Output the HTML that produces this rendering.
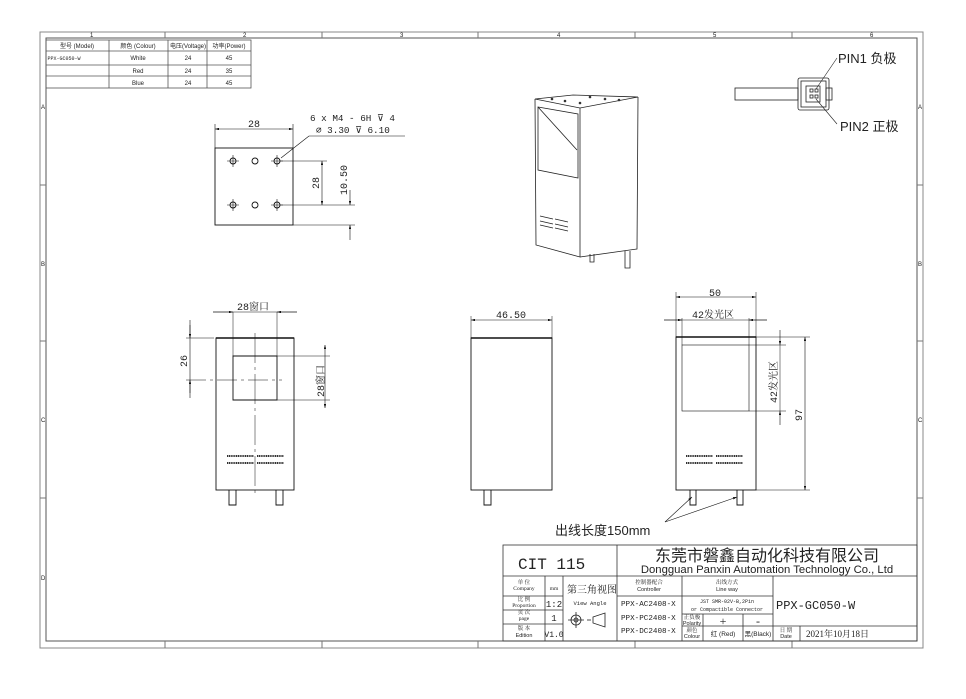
<!DOCTYPE html>
<html><head><meta charset="utf-8"><style>
html,body{margin:0;padding:0;background:#fff;}
svg{display:block;}
text{font-family:"Liberation Serif","Noto Serif CJK SC",serif;fill:#222;}
.s{font-family:"Liberation Sans","Noto Sans CJK SC",sans-serif;}
.m{font-family:"Liberation Mono","Noto Serif CJK SC",monospace;}
</style></head><body>
<svg width="966" height="699" viewBox="0 0 966 699" xmlns="http://www.w3.org/2000/svg">
<defs>
<marker id="a" viewBox="0 0 10 6" refX="10" refY="3" markerWidth="8" markerHeight="4" orient="auto-start-reverse"><path d="M0,0L10,3L0,6z" fill="#111"/></marker>
</defs>
<rect width="966" height="699" fill="#fff"/>
<g fill="none" stroke="#888" stroke-width="1">
<rect x="40" y="32" width="883" height="616"/>
<rect x="46" y="38" width="871" height="603" stroke="#555"/>
</g>
<g stroke="#777" stroke-width="1">
<line x1="165" y1="32" x2="165" y2="38"/><line x1="322" y1="32" x2="322" y2="38"/><line x1="478" y1="32" x2="478" y2="38"/><line x1="635" y1="32" x2="635" y2="38"/><line x1="792" y1="32" x2="792" y2="38"/>
<line x1="165" y1="641" x2="165" y2="648"/><line x1="322" y1="641" x2="322" y2="648"/><line x1="478" y1="641" x2="478" y2="648"/><line x1="635" y1="641" x2="635" y2="648"/><line x1="792" y1="641" x2="792" y2="648"/>
<line x1="40" y1="185" x2="46" y2="185"/><line x1="40" y1="341" x2="46" y2="341"/><line x1="40" y1="498" x2="46" y2="498"/>
<line x1="917" y1="185" x2="923" y2="185"/><line x1="917" y1="341" x2="923" y2="341"/><line x1="917" y1="498" x2="923" y2="498"/>
</g>
<g class="s" font-size="6" fill="#555">
<text x="90" y="37" class="s">1</text><text x="243" y="37" class="s">2</text><text x="400" y="37" class="s">3</text><text x="557" y="37" class="s">4</text><text x="713" y="37" class="s">5</text><text x="870" y="37" class="s">6</text>
<text x="41" y="109" class="s">A</text><text x="41" y="266" class="s">B</text><text x="41" y="422" class="s">C</text><text x="41" y="580" class="s">D</text>
<text x="918" y="109" class="s">A</text><text x="918" y="266" class="s">B</text><text x="918" y="422" class="s">C</text>
</g>
<!-- table -->
<g stroke="#555" stroke-width="0.8" fill="none">
<rect x="46" y="40" width="205" height="48"/>
<line x1="46" y1="51" x2="251" y2="51"/><line x1="46" y1="65" x2="251" y2="65"/><line x1="46" y1="76" x2="251" y2="76"/>
<line x1="109" y1="40" x2="109" y2="88"/><line x1="168" y1="40" x2="168" y2="88"/><line x1="207" y1="40" x2="207" y2="88"/>
</g>
<g font-size="6" class="s" text-anchor="middle">
<text x="77" y="48" class="s">型号 (Model)</text><text x="138" y="48" class="s">颜色 (Colour)</text><text x="188" y="48" class="s">电压(Voltage)</text><text x="229" y="48" class="s">功率(Power)</text>
<text x="64" y="60" class="m" font-size="5">PPX-GC050-W</text><text x="138" y="60" class="s">White</text><text x="188" y="60" class="s">24</text><text x="229" y="60" class="s">45</text>
<text x="138" y="73" class="s">Red</text><text x="188" y="73" class="s">24</text><text x="229" y="73" class="s">35</text>
<text x="138" y="85" class="s">Blue</text><text x="188" y="85" class="s">24</text><text x="229" y="85" class="s">45</text>
</g>
<!-- hole view -->
<g stroke="#111" stroke-width="0.9" fill="none">
<rect x="215" y="148" width="78" height="77"/>
<circle cx="233" cy="161" r="3"/><circle cx="255" cy="161" r="3"/><circle cx="277" cy="161" r="3"/>
<circle cx="233" cy="205" r="3"/><circle cx="255" cy="205" r="3"/><circle cx="277" cy="205" r="3"/>
<path d="M227 161h12M233 155v12M271 161h12M277 155v12M227 205h12M233 199v12M271 205h12M277 199v12" stroke-width="0.6"/>
<line x1="215" y1="148" x2="215" y2="124" stroke-width="0.6"/><line x1="293" y1="148" x2="293" y2="124" stroke-width="0.6"/>
<line x1="215" y1="129" x2="293" y2="129" stroke-width="0.6" marker-start="url(#a)" marker-end="url(#a)"/>
<line x1="281" y1="158" x2="309" y2="136" stroke-width="0.6"/><line x1="309" y1="136" x2="405" y2="136" stroke-width="0.6"/>
<line x1="280" y1="161" x2="327" y2="161" stroke-width="0.6"/><line x1="280" y1="205" x2="355" y2="205" stroke-width="0.6"/><line x1="293" y1="225" x2="355" y2="225" stroke-width="0.6"/>
<line x1="322" y1="161" x2="322" y2="205" stroke-width="0.6" marker-start="url(#a)" marker-end="url(#a)"/>
<line x1="350" y1="190" x2="350" y2="205" stroke-width="0.6" marker-end="url(#a)"/><line x1="350" y1="240" x2="350" y2="225" stroke-width="0.6" marker-end="url(#a)"/>
</g>
<text x="248" y="127" font-size="10" class="m">28</text>
<text x="310" y="121" font-size="9.3" class="m">6 x  M4 - 6H ⊽ 4</text>
<text x="316" y="133" font-size="9.3" class="m">⌀ 3.30 ⊽ 6.10</text>
<text transform="translate(319,189) rotate(-90)" font-size="10" class="m">28</text>
<text transform="translate(347,195) rotate(-90)" font-size="10" class="m">10.50</text>
<!-- 3D view -->
<g stroke="#222" stroke-width="0.8" fill="none">
<path d="M535 99 L573 95 L638 97 L580 108 Z"/>
<path d="M535 99 L536 245 L580 257 L580 108"/>
<path d="M638 97 L637 249 L580 257"/>
<path d="M538 107 L578 114 L578 178 L538 170 Z"/>
<line x1="538" y1="107" x2="577" y2="150"/>
<path d="M540 216l13 3M540 221l13 3M555 219l13 3M555 224l13 3M540 225l13 3M555 228l13 3"/>
<path d="M590 254v8h4v-8M625 251v17h5v-17"/>
</g>
<g fill="#333"><circle cx="552" cy="99" r="1.3"/><circle cx="565" cy="101" r="1.3"/><circle cx="580" cy="103" r="1.3"/><circle cx="590" cy="97" r="1.3"/><circle cx="605" cy="99" r="1.3"/><circle cx="619" cy="100" r="1.3"/></g>
<!-- connector -->
<g stroke="#222" stroke-width="0.8" fill="none">
<rect x="735" y="88" width="63" height="12"/>
<rect x="798" y="78" width="31" height="32" rx="2"/>
<rect x="801" y="81" width="25" height="26"/>
<rect x="806" y="86" width="14" height="16"/>
<rect x="826" y="88" width="6" height="12"/>
<rect x="810" y="89" width="3" height="3"/><rect x="815" y="89" width="3" height="3"/><rect x="810" y="95" width="3" height="3"/><rect x="815" y="95" width="3" height="3"/>
<line x1="816" y1="89" x2="837" y2="58" stroke-width="0.6"/><line x1="816" y1="99" x2="837" y2="124" stroke-width="0.6"/>
</g>
<text x="838" y="63" font-size="13" class="s">PIN1 负极</text>
<text x="840" y="131" font-size="13" class="s">PIN2 正极</text>
<!-- front view left -->
<g stroke="#111" stroke-width="0.9" fill="none">
<rect x="216" y="338" width="78" height="152"/>
<line x1="216" y1="338" x2="294" y2="338" stroke-width="1.4"/>
<path d="M233 356H277V400H233Z"/>
<line x1="255" y1="333" x2="255" y2="495" stroke-width="0.5" stroke-dasharray="30,4,3,4"/>
<line x1="186" y1="380" x2="282" y2="380" stroke-width="0.5" stroke-dasharray="20,4,3,4"/>
<path d="M229 490v15h7v-15M276 490v15h7v-15"/>
<path d="M233 356V312M277 356V312" stroke-width="0.5"/>
<line x1="213" y1="312" x2="233" y2="312" stroke-width="0.6" marker-end="url(#a)"/><line x1="297" y1="312" x2="277" y2="312" stroke-width="0.6" marker-end="url(#a)"/>
<line x1="213" y1="312" x2="297" y2="312" stroke-width="0.5"/>
<line x1="186" y1="338" x2="214" y2="338" stroke-width="0.5"/>
<line x1="190" y1="320" x2="190" y2="398" stroke-width="0.6"/>
<line x1="190" y1="325" x2="190" y2="338" stroke-width="0.6" marker-end="url(#a)"/><line x1="190" y1="393" x2="190" y2="380" stroke-width="0.6" marker-end="url(#a)"/>
<path d="M277 356H330M277 400H330" stroke-width="0.5"/>
<line x1="325" y1="345" x2="325" y2="408" stroke-width="0.6" marker-start="url(#a)" marker-end="url(#a)"/>
</g>
<g fill="none" stroke="#333" stroke-width="2" stroke-dasharray="1.2,0.6">
<path d="M227 456h27M257 456h27M227 463h27M257 463h27"/>
</g>
<text x="237" y="310" font-size="10" class="m">28窗口</text>
<text transform="translate(187,367) rotate(-90)" font-size="10" class="m">26</text>
<text transform="translate(324,397) rotate(-90)" font-size="10" class="m">28窗口</text>
<!-- side view -->
<g stroke="#111" stroke-width="0.9" fill="none">
<rect x="471" y="338" width="81" height="152"/>
<line x1="471" y1="338" x2="552" y2="338" stroke-width="1.4"/>
<path d="M484 490v15h7v-15"/>
<path d="M471 338V316M552 338V316" stroke-width="0.5"/>
<line x1="471" y1="320" x2="552" y2="320" stroke-width="0.6" marker-start="url(#a)" marker-end="url(#a)"/>
</g>
<text x="496" y="318" font-size="10" class="m">46.50</text>
<!-- right view -->
<g stroke="#111" stroke-width="0.9" fill="none">
<rect x="676" y="337" width="80" height="153"/>
<line x1="676" y1="337" x2="756" y2="337" stroke-width="1.4"/>
<rect x="682" y="345" width="67" height="66" stroke-width="0.6"/>
<path d="M690 490v15h6v-15M737 490v15h6v-15"/>
<path d="M676 337V292M756 337V292M682 345V318M749 345V318" stroke-width="0.5"/>
<line x1="676" y1="297" x2="756" y2="297" stroke-width="0.6" marker-start="url(#a)" marker-end="url(#a)"/>
<line x1="664" y1="320" x2="682" y2="320" stroke-width="0.6" marker-end="url(#a)"/><line x1="767" y1="320" x2="749" y2="320" stroke-width="0.6" marker-end="url(#a)"/>
<line x1="664" y1="320" x2="767" y2="320" stroke-width="0.5"/>
<path d="M756 337H810M749 345H786M749 411H786M756 490H810" stroke-width="0.5"/>
<line x1="780" y1="330" x2="780" y2="345" stroke-width="0.6" marker-end="url(#a)"/><line x1="780" y1="425" x2="780" y2="411" stroke-width="0.6" marker-end="url(#a)"/>
<line x1="780" y1="345" x2="780" y2="411" stroke-width="0.5"/>
<line x1="805" y1="337" x2="805" y2="490" stroke-width="0.6" marker-start="url(#a)" marker-end="url(#a)"/>
<line x1="665" y1="522" x2="692" y2="497" stroke-width="0.6" marker-end="url(#a)"/>
<line x1="665" y1="522" x2="737" y2="497" stroke-width="0.6" marker-end="url(#a)"/>
</g>
<g fill="none" stroke="#333" stroke-width="2" stroke-dasharray="1.2,0.6">
<path d="M686 456h27M716 456h27M686 463h27M716 463h27"/>
</g>
<text x="709" y="296" font-size="10" class="m">50</text>
<text x="692" y="318" font-size="10" class="m">42发光区</text>
<text transform="translate(777,403) rotate(-90)" font-size="10" class="m">42发光区</text>
<text transform="translate(802,421) rotate(-90)" font-size="10" class="m">97</text>
<text x="555" y="535" font-size="13" class="s">出线长度150mm</text>
<!-- title block -->
<g stroke="#333" stroke-width="0.8" fill="none">
<rect x="503" y="545" width="414" height="96"/>
<line x1="503" y1="576" x2="917" y2="576"/>
<line x1="617" y1="545" x2="617" y2="641"/>
<line x1="503" y1="596" x2="563" y2="596"/><line x1="503" y1="610" x2="563" y2="610"/><line x1="503" y1="624" x2="563" y2="624"/>
<line x1="545" y1="576" x2="545" y2="641"/><line x1="563" y1="576" x2="563" y2="641"/>
<line x1="617" y1="596" x2="773" y2="596"/>
<line x1="682" y1="576" x2="682" y2="641"/><line x1="773" y1="576" x2="773" y2="641"/>
<line x1="682" y1="614" x2="773" y2="614"/><line x1="682" y1="626" x2="917" y2="626"/>
<line x1="703" y1="614" x2="703" y2="641"/><line x1="743" y1="614" x2="743" y2="641"/>
<line x1="800" y1="626" x2="800" y2="641"/>
</g>
<text x="518" y="569" font-size="16" class="m">CIT 115</text>
<text x="767" y="561" font-size="16" text-anchor="middle" class="s">东莞市磐鑫自动化科技有限公司</text>
<text x="767" y="573" font-size="11.3" text-anchor="middle" class="s">Dongguan Panxin Automation Technology Co., Ltd</text>
<g font-size="5.5" text-anchor="middle">
<text x="524" y="584">单 位</text><text x="524" y="590">Company</text>
<text x="524" y="601">比 例</text><text x="524" y="607">Proportion</text>
<text x="524" y="614">页 次</text><text x="524" y="620">page</text>
<text x="524" y="630">版 本</text><text x="524" y="637" class="s">Edition</text>
<text x="554" y="590">mm</text>
<text x="649" y="584">控制器配合</text><text x="649" y="591" class="s">Controller</text>
<text x="727" y="584">出线方式</text><text x="727" y="591" class="s">Line way</text>
<text x="727" y="603" class="m" font-size="5">JST SMR-02V-B,2Pin</text><text x="727" y="611" class="m" font-size="5">or Compactible Connector</text>
<text x="692" y="619">正负极</text><text x="692" y="625" class="s">Polarity</text>
<text x="692" y="632">颜色</text><text x="692" y="638" class="s">Colour</text>
<text x="723" y="636" class="s" font-size="6.5">红 (Red)</text><text x="758" y="636" class="s" font-size="6.5">黑(Black)</text>
<text x="786" y="632">日 期</text><text x="786" y="638" class="s">Date</text>
<text x="590" y="605" class="m" font-size="5.5">View Angle</text>
</g>
<text x="567" y="593" font-size="10">第三角视图</text>
<text x="554" y="607" font-size="9" text-anchor="middle" class="m">1:2</text>
<text x="554" y="621" font-size="9" text-anchor="middle" class="m">1</text>
<text x="554" y="637" font-size="8" text-anchor="middle" class="m">V1.0</text>
<text x="621" y="606" font-size="7.6" class="m">PPX-AC2408-X</text>
<text x="621" y="620" font-size="7.6" class="m">PPX-PC2408-X</text>
<text x="621" y="633" font-size="7.6" class="m">PPX-DC2408-X</text>
<text x="723" y="625" font-size="12" text-anchor="middle">+</text>
<text x="758" y="625" font-size="12" text-anchor="middle">-</text>
<text x="776" y="609" font-size="12" class="m">PPX-GC050-W</text>
<text x="806" y="637" font-size="9">2021年10月18日</text>
<g stroke="#222" stroke-width="0.8" fill="none">
<circle cx="576" cy="620" r="5"/><circle cx="576" cy="620" r="2"/>
<path d="M568 620h16M576 612v16"/>
<path d="M587 620h4"/>
<path d="M593 617l12-4v14l-12-4z"/>
</g>
</svg>
</body></html>
